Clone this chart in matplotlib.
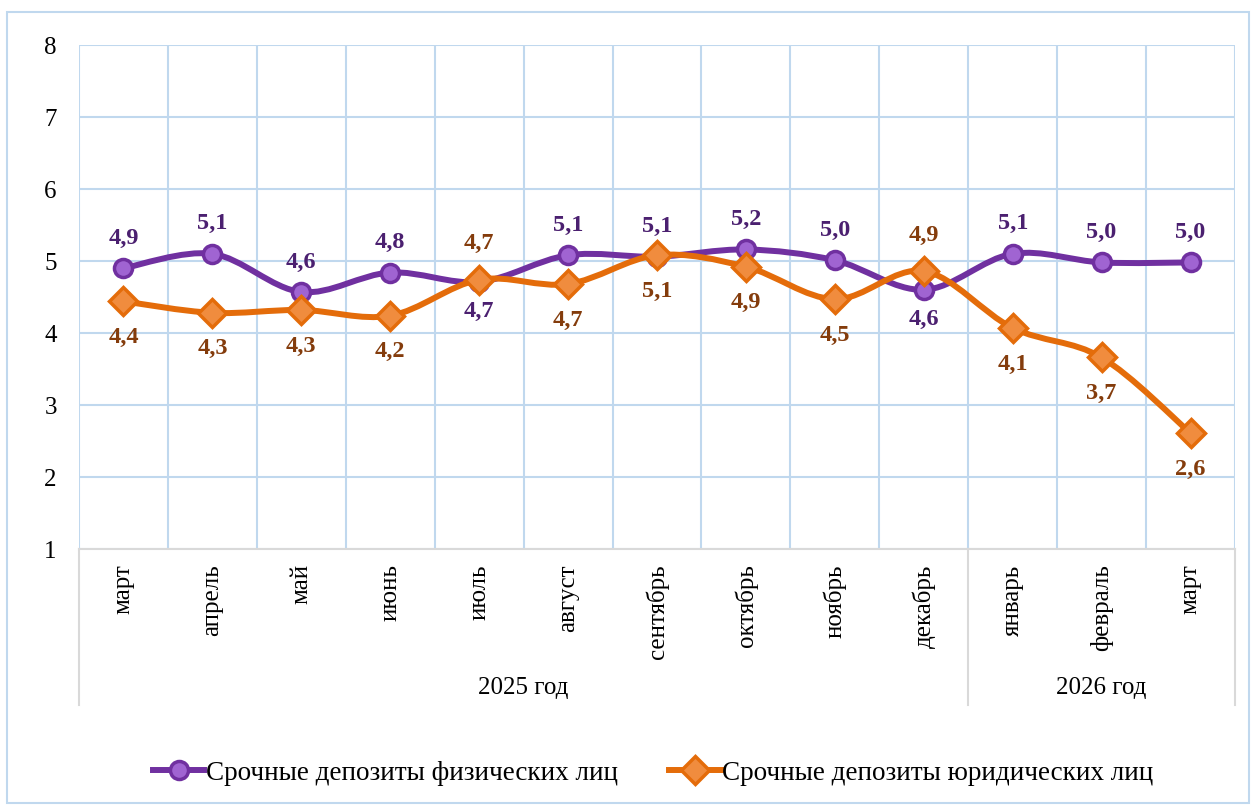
import numpy as np
import matplotlib
matplotlib.use("Agg")
import matplotlib.pyplot as plt
from matplotlib.path import Path
from matplotlib.patches import PathPatch, Rectangle
from matplotlib.lines import Line2D

plt.rcParams['font.family'] = ['Liberation Serif', 'DejaVu Serif']

months = ['март', 'апрель', 'май', 'июнь', 'июль', 'август', 'сентябрь',
          'октябрь', 'ноябрь', 'декабрь', 'январь', 'февраль', 'март']
years = ['2025 год', '2026 год']
year_spans = [(0, 9), (10, 12)]

phys = [4.90, 5.10, 4.57, 4.84, 4.71, 5.08, 5.06, 5.16, 5.01, 4.60, 5.10, 4.98, 4.98]
legal = [4.44, 4.28, 4.32, 4.24, 4.74, 4.68, 5.08, 4.92, 4.47, 4.86, 4.07, 3.66, 2.61]
# where the label goes: 1 above the point, -1 below
phys_pos = [1, 1, 1, 1, -1, 1, 1, 1, 1, -1, 1, 1, 1]
legal_pos = [-1, -1, -1, -1, 1, -1, -1, -1, -1, 1, -1, -1, -1]

names = ['Срочные депозиты физических лиц', 'Срочные депозиты юридических лиц']

PURPLE = '#7030A0'
PURPLE_FACE = '#A064D2'
PURPLE_TXT = '#4B2070'
ORANGE = '#E46C0A'
ORANGE_FACE = '#F08C3E'
ORANGE_TXT = '#843C0C'
GRID = '#C0D8EE'
AXIS = '#D9D9D9'


def smooth_path(xs, ys):
    # Excel-style smoothed line: cubic bezier through the points
    pts = np.column_stack([xs, ys]).astype(float)
    n = len(pts)
    verts = [pts[0]]
    codes = [Path.MOVETO]
    for i in range(n - 1):
        p0 = pts[i - 1] if i > 0 else pts[i]
        p1 = pts[i]
        p2 = pts[i + 1]
        p3 = pts[i + 2] if i + 2 < n else pts[i + 1]
        c1 = p1 + (p2 - p0) / 6.0
        c2 = p2 - (p3 - p1) / 6.0
        verts += [c1, c2, p2]
        codes += [Path.CURVE4] * 3
    return Path(verts, codes)


fig = plt.figure(figsize=(12.56, 8.05), dpi=100)
ax = fig.add_axes([79 / 1256, 1 - 549 / 805, 1156 / 1256, 504 / 805])

x = np.arange(len(months))
ax.set_xlim(-0.5, len(months) - 0.5)
ax.set_ylim(1, 8)

# grid
ax.set_xticks(np.arange(-0.5, len(months), 1.0), minor=True)
ax.grid(True, which='minor', axis='x', color=GRID, lw=1.5)
ax.grid(True, which='major', axis='y', color=GRID, lw=1.5)
ax.set_axisbelow(True)
for s in ['left', 'right', 'top']:
    ax.spines[s].set_visible(False)
ax.spines['bottom'].set_color(AXIS)
ax.spines['bottom'].set_linewidth(1.5)

ax.set_yticks(range(1, 9))
ax.tick_params(axis='y', length=0, pad=16, labelsize=18)
ax.set_xticks(x)
ax.set_xticklabels(months, rotation=90, va='top', ha='center')
ax.tick_params(axis='x', which='both', length=0, pad=11, labelsize=18)

# category separators below axis
tr = ax.get_xaxis_transform()
for xb in [-0.5, 9.5, 12.5]:
    ax.add_line(Line2D([xb, xb], [0, -0.31], transform=tr, color=AXIS,
                       lw=1.5, clip_on=False))
for label, (a, b) in zip(years, year_spans):
    ax.text((a + b) / 2, -0.276, label, transform=tr, ha='center',
            va='center', fontsize=18)

# series
series = [(phys, phys_pos, PURPLE, PURPLE_FACE, PURPLE_TXT, 'o', 13, 30),
          (legal, legal_pos, ORANGE, ORANGE_FACE, ORANGE_TXT, 'D', 14.5, 36)]
handles = []
for (vals, pos, col, face, tcol, mk, ms, off), name in zip(series, names):
    ax.add_patch(PathPatch(smooth_path(x, vals), fill=False, edgecolor=col,
                           lw=4.3, capstyle='round', joinstyle='round', zorder=3))
    ax.plot(x, vals, ls='none', marker=mk, ms=ms, mfc=face, mec=col,
            mew=2.5, zorder=4)
    for xi, v, p in zip(x, vals, pos):
        ax.annotate(f'{v:.1f}'.replace('.', ','), (xi, v),
                    xytext=(0, p * off * 0.72), textcoords='offset points',
                    ha='center', va='center', fontsize=17.5,
                    fontweight='bold', color=tcol, zorder=5)
    handles.append(Line2D([], [], color=col, lw=4.3, marker=mk, ms=ms,
                          mfc=face, mec=col, mew=2.5))

fig.legend(handles, names, loc='center', bbox_to_anchor=(653 / 1256, 1 - 773 / 805),
           ncol=2, frameon=False, fontsize=19.5, handlelength=1.9,
           handletextpad=0.05, columnspacing=1.9)

# outer chart border
fig.add_artist(Rectangle((7 / 1256, 2 / 805), 1242 / 1256, 791 / 805,
                         transform=fig.transFigure, fill=False,
                         edgecolor=GRID, lw=1.5))

fig.savefig('out.png', dpi=100)
